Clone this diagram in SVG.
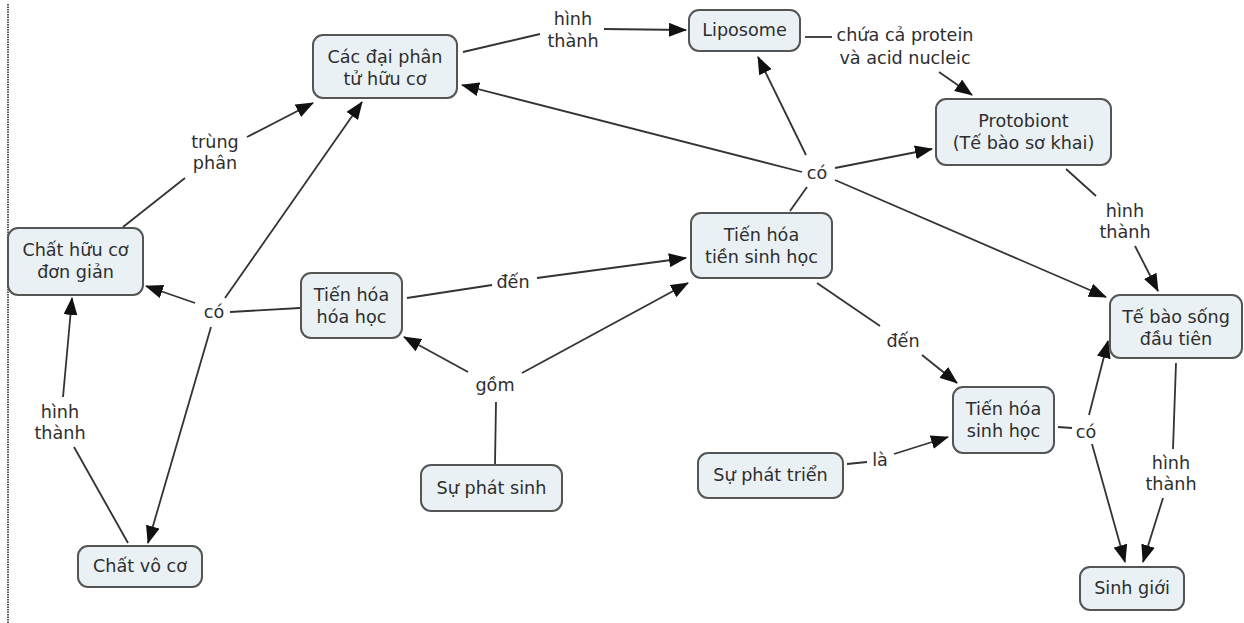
<svg xmlns="http://www.w3.org/2000/svg" width="1244" height="623" viewBox="0 0 1244 623">
<style>
.n rect{fill:#eaf1f5;stroke:#555;stroke-width:2}
text{font-family:"DejaVu Sans","Verdana",sans-serif;font-size:17.6px;fill:#2e2e2e;text-anchor:middle}
.c line{stroke:#333;stroke-width:1.8}
.a{marker-end:url(#ah)}
</style>
<defs>
<marker id="ah" viewBox="0 0 18 14" refX="17" refY="7" markerWidth="18" markerHeight="14" markerUnits="userSpaceOnUse" orient="auto">
<path d="M0,0 L18,7 L0,14 Z" fill="#111"/>
</marker>
</defs>
<rect width="1244" height="623" fill="#fff"/>
<line x1="8" y1="4" x2="8" y2="623" stroke="#222" stroke-width="1.5" stroke-dasharray="1.5,1"/>

<g class="c">
<line x1="463" y1="52" x2="540" y2="34"/>
<line class="a" x1="604" y1="29" x2="686" y2="30"/>
<line x1="805" y1="37" x2="832" y2="37"/>
<line class="a" x1="939" y1="72" x2="972" y2="95"/>
<line x1="790" y1="211" x2="807" y2="187"/>
<line class="a" x1="806" y1="155" x2="758" y2="57"/>
<line class="a" x1="802" y1="172" x2="462" y2="85"/>
<line class="a" x1="835" y1="168" x2="932" y2="149"/>
<line class="a" x1="835" y1="180" x2="1106" y2="297"/>
<line x1="1066" y1="169" x2="1096" y2="196"/>
<line class="a" x1="1135" y1="246" x2="1158" y2="291"/>
<line x1="123" y1="227" x2="185" y2="178"/>
<line class="a" x1="247" y1="137" x2="313" y2="103"/>
<line x1="230" y1="312" x2="300" y2="308"/>
<line class="a" x1="195" y1="303" x2="146" y2="286"/>
<line class="a" x1="225" y1="298" x2="362" y2="102"/>
<line class="a" x1="211" y1="327" x2="148" y2="543"/>
<line x1="128" y1="543" x2="74" y2="447"/>
<line class="a" x1="63" y1="397" x2="72" y2="298"/>
<line x1="407" y1="298" x2="492" y2="285"/>
<line class="a" x1="537" y1="278" x2="686" y2="258"/>
<line x1="495" y1="464" x2="496" y2="402"/>
<line class="a" x1="468" y1="372" x2="404" y2="337"/>
<line class="a" x1="522" y1="373" x2="688" y2="283"/>
<line x1="817" y1="283" x2="880" y2="326"/>
<line class="a" x1="922" y1="355" x2="957" y2="383"/>
<line x1="847" y1="464" x2="867" y2="462"/>
<line class="a" x1="894" y1="454" x2="948" y2="437"/>
<line x1="1058" y1="427" x2="1072" y2="428"/>
<line class="a" x1="1089" y1="415" x2="1108" y2="341"/>
<line class="a" x1="1092" y1="444" x2="1125" y2="562"/>
<line x1="1176" y1="363" x2="1173" y2="449"/>
<line class="a" x1="1163" y1="498" x2="1143" y2="562"/>
</g>

<g id="labels">
<text x="573" y="25">hình</text><text x="573" y="47">thành</text>
<text x="905" y="41">chứa cả protein</text><text x="905" y="64">và acid nucleic</text>
<text x="817" y="179">có</text>
<text x="1125" y="217">hình</text><text x="1125" y="238">thành</text>
<text x="215" y="148">trùng</text><text x="215" y="169">phân</text>
<text x="214" y="318">có</text>
<text x="513" y="288">đến</text>
<text x="495" y="391">gồm</text>
<text x="60" y="418">hình</text><text x="60" y="439">thành</text>
<text x="903" y="347">đến</text>
<text x="880" y="466">là</text>
<text x="1086" y="438">có</text>
<text x="1171" y="469">hình</text><text x="1171" y="490">thành</text>
</g>

<g id="n1" class="n"><rect x="313" y="35" width="144" height="63" rx="10"/><text x="385" y="63">Các đại phân</text><text x="385" y="85">tử hữu cơ</text></g>
<g id="n2" class="n"><rect x="689" y="10" width="111" height="41" rx="10"/><text x="744.5" y="36">Liposome</text></g>
<g id="n3" class="n"><rect x="936" y="99" width="175" height="66" rx="10"/><text x="1023.5" y="127">Protobiont</text><text x="1023.5" y="149">(Tế bào sơ khai)</text></g>
<g id="n4" class="n"><rect x="8" y="228" width="135" height="67" rx="10"/><text x="75.5" y="256">Chất hữu cơ</text><text x="75.5" y="278">đơn giản</text></g>
<g id="n5" class="n"><rect x="301" y="273" width="101" height="65" rx="10"/><text x="351.5" y="301">Tiến hóa</text><text x="351.5" y="323">hóa học</text></g>
<g id="n6" class="n"><rect x="691" y="213" width="141" height="65" rx="10"/><text x="761.5" y="241">Tiến hóa</text><text x="761.5" y="263">tiền sinh học</text></g>
<g id="n7" class="n"><rect x="1110" y="295" width="132" height="63" rx="10"/><text x="1176" y="323">Tế bào sống</text><text x="1176" y="345">đầu tiên</text></g>
<g id="n8" class="n"><rect x="953" y="387" width="101" height="66" rx="10"/><text x="1003.5" y="415">Tiến hóa</text><text x="1003.5" y="437">sinh học</text></g>
<g id="n9" class="n"><rect x="698" y="453" width="145" height="45" rx="10"/><text x="770.5" y="481">Sự phát triển</text></g>
<g id="n10" class="n"><rect x="421" y="465" width="141" height="46" rx="10"/><text x="491.5" y="494">Sự phát sinh</text></g>
<g id="n11" class="n"><rect x="78" y="546" width="124" height="41" rx="10"/><text x="140" y="572">Chất vô cơ</text></g>
<g id="n12" class="n"><rect x="1080" y="567" width="104" height="43" rx="10"/><text x="1132" y="594">Sinh giới</text></g>
</svg>
